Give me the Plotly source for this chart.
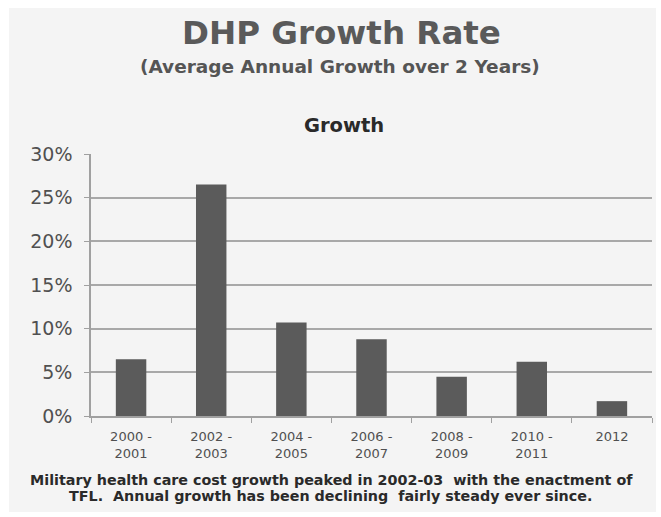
import plotly.graph_objects as go

# Biennial periods and their average annual growth (%)
periods = ["2000 -<br>2001", "2002 -<br>2003", "2004 -<br>2005", "2006 -<br>2007",
           "2008 -<br>2009", "2010 -<br>2011", "2012"]
growth = [6.5, 26.5, 10.7, 8.8, 4.5, 6.2, 1.7]
y_ticks = [0, 5, 10, 15, 20, 25, 30]
y_tick_text = [f"{v}%" for v in y_ticks]

W, H = 661, 517
L, R, T, B = 91, 9, 154, 101
PLOT_H = H - T - B
FONT = "DejaVu Sans"


def py(pixel_y):
    """Convert a pixel row to a paper y coordinate."""
    return (H - B - pixel_y) / PLOT_H


def px(pixel_x):
    return (pixel_x - L) / (W - L - R)


fig = go.Figure(
    go.Bar(
        x=periods,
        y=growth,
        marker=dict(color="#5b5b5b", line=dict(width=0)),
    )
)

annotations = [
    dict(text="<b>DHP Growth Rate</b>", x=px(341), y=py(33),
         font=dict(size=32.5, color="#5a5a5a")),
    dict(text="<b>(Average Annual Growth over 2 Years)</b>", x=px(340), y=py(66),
         font=dict(size=18.5, color="#555555")),
    dict(text="<b>Growth</b>", x=px(344), y=py(125),
         font=dict(size=19.5, color="#2a2a2a")),
    dict(text="<b>Military health care cost growth peaked in 2002-03  with the enactment of</b>",
         x=px(331), y=py(480), font=dict(size=14.3, color="#2a2a2a")),
    dict(text="<b>TFL.  Annual growth has been declining  fairly steady ever since.</b>",
         x=px(330), y=py(496), font=dict(size=14.3, color="#2a2a2a")),
]
for a in annotations:
    a.update(xref="paper", yref="paper", showarrow=False,
             xanchor="center", yanchor="middle")

fig.update_layout(
    width=W,
    height=H,
    margin=dict(l=L, r=R, t=T, b=B),
    paper_bgcolor="white",
    plot_bgcolor="rgba(0,0,0,0)",
    font=dict(family=FONT, color="#555555"),
    showlegend=False,
    bargap=0.62,
    annotations=annotations,
    shapes=[
        dict(type="rect", xref="paper", yref="paper", layer="below",
             x0=px(9), x1=px(656), y0=py(512), y1=py(8),
             fillcolor="#f4f4f4", line=dict(width=0)),
    ],
)

fig.update_xaxes(
    type="category",
    tickson="boundaries",
    ticks="outside",
    ticklen=5,
    tickcolor="#a0a0a0",
    showline=True,
    linecolor="#a0a0a0",
    linewidth=1.5,
    showgrid=False,
    ticklabelstandoff=8,
    tickfont=dict(size=13, color="#505050"),
)

fig.update_yaxes(
    range=[0, 30],
    tickvals=y_ticks,
    ticktext=y_tick_text,
    ticks="outside",
    ticklen=5,
    tickcolor="#a0a0a0",
    showline=True,
    linecolor="#a0a0a0",
    linewidth=1.5,
    showgrid=True,
    gridcolor="#a8a8a8",
    gridwidth=1.5,
    zeroline=False,
    ticklabelstandoff=8,
    tickfont=dict(size=19, color="#505050"),
)

fig.write_html("out.html")
